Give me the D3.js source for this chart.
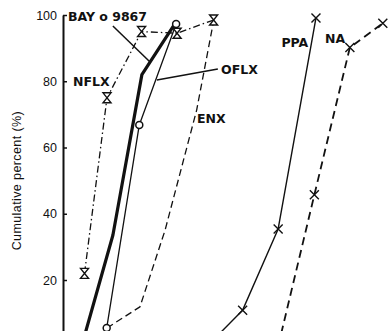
<!DOCTYPE html>
<html>
<head>
<meta charset="utf-8">
<script src="https://cdn.jsdelivr.net/npm/d3@7"></script>
<style>
body { margin: 0; background: #fff; }
svg { display: block; }
text { fill: #111; }
</style>
</head>
<body>
<div id="chart-area"></div>
<script>
var width = 389, height = 331;

// x is in arbitrary units: the x axis is cut off in the picture
var nflxX = [0.66, 1.35, 2.41, 3.50, 4.62];
var nflxY = [22, 75, 95, 94.5, 98.5];
var bayX = [0.57, 1.53, 2.42, 3.45];
var bayY = [0, 33.5, 82, 97.6];
var oflxX = [1.34, 2.34, 3.47];
var oflxY = [5.5, 66.8, 97.3];
var enxX = [1.35, 2.36, 3.13, 4.10, 4.62];
var enxY = [5.5, 11.9, 35, 71.3, 98.2];
var ppaX = [4.42, 5.51, 6.60, 7.76];
var ppaY = [0, 10.9, 35.4, 99.1];
var naX = [6.60, 7.71, 8.80, 9.81];
var naY = [0, 45.7, 90.2, 97.5];
var yTicks = [20, 40, 60, 80, 100];

var svg = d3.select("#chart-area")
    .append("svg")
    .attr("width", width)
    .attr("height", height);

var x = d3.scaleLinear().domain([0, 10]).range([63, 389]);
var y = d3.scaleLinear().domain([0, 100]).range([346.25, 15]);

var yAxis = d3.axisLeft(y)
    .tickValues(yTicks)
    .tickSizeInner(-4)
    .tickSizeOuter(0)
    .tickPadding(6);

var gy = svg.append("g")
    .attr("transform", "translate(" + x(0) + ",0)")
    .call(yAxis);
gy.select(".domain").attr("stroke", "#111").attr("stroke-width", 2);
gy.selectAll(".tick line").attr("stroke", "#111").attr("stroke-width", 1.5);
gy.selectAll(".tick text")
    .style("font-family", "'Liberation Sans', Arial, sans-serif")
    .style("font-size", "12.5px")
    .attr("fill", "#111");

svg.append("text")
    .attr("transform", "translate(21," + y(50) + ") rotate(-90)")
    .attr("text-anchor", "middle")
    .style("font-family", "'Liberation Sans', Arial, sans-serif")
    .style("font-size", "12.5px")
    .attr("letter-spacing", 0.4)
    .text("Cumulative percent (%)");

function zip(xs, ys) {
    return xs.map((v, i) => [v, ys[i]]);
}

var series = [
    { name: "NFLX", pts: zip(nflxX, nflxY), width: 1.3, dash: "7,3,1.5,3", marker: "hour" },
    { name: "BAY o 9867", pts: zip(bayX, bayY), width: 3.2, dash: null, marker: null },
    { name: "OFLX", pts: zip(oflxX, oflxY), width: 1.3, dash: null, marker: "circle" },
    { name: "ENX", pts: zip(enxX, enxY), width: 1.3, dash: "7,4", marker: null },
    { name: "PPA", pts: zip(ppaX, ppaY), width: 1.4, dash: null, marker: "cross" },
    { name: "NA", pts: zip(naX, naY), width: 1.8, dash: "8,5", marker: "cross" }
];

var line = d3.line()
    .x(d => x(d[0]))
    .y(d => y(d[1]));

series.forEach(s => {
    svg.append("path")
        .datum(s.pts)
        .attr("d", line)
        .attr("fill", "none")
        .attr("stroke", "#111")
        .attr("stroke-width", s.width)
        .attr("stroke-linejoin", "round")
        .attr("stroke-dasharray", s.dash);
});

var markerPath = {
    hour: "M-4,-5H4L-4,5H4Z",
    cross: "M-4.5,-4.5L4.5,4.5M-4.5,4.5L4.5,-4.5"
};

series.forEach(s => {
    if (!s.marker) return;
    var g = svg.selectAll(null)
        .data(s.marker === "circle" ? s.pts : s.pts.filter(d => d[1] > 0))
        .enter()
        .append("g")
        .attr("transform", d => "translate(" + x(d[0]) + "," + y(d[1]) + ")");
    if (s.marker === "circle") {
        g.append("circle").attr("r", 3.5)
            .attr("fill", "#fff").attr("stroke", "#111").attr("stroke-width", 1.5);
    } else {
        g.append("path").attr("d", markerPath[s.marker])
            .attr("fill", s.marker === "hour" ? "#fff" : "none")
            .attr("stroke", "#111").attr("stroke-width", 1.4);
    }
});

// labels and leader lines
var labels = [
    { text: "BAY o 9867", at: [0.15, 98.2] },
    { text: "NFLX", at: [0.31, 78.6] },
    { text: "OFLX", at: [4.85, 82.2] },
    { text: "ENX", at: [4.11, 67.4] },
    { text: "PPA", at: [6.70, 90.3] },
    { text: "NA", at: [8.04, 91.5] }
];
svg.selectAll(".lbl")
    .data(labels)
    .enter()
    .append("text")
    .attr("class", "lbl")
    .attr("x", d => x(d.at[0]))
    .attr("y", d => y(d.at[1]))
    .style("font-family", "'DejaVu Sans', sans-serif")
    .style("font-size", "12.5px")
    .style("font-weight", "bold")
    .text(d => d.text);

var leaders = [
    [[1.53, 96.7], [2.67, 85.8]],
    [[2.88, 80.4], [4.75, 83.7]]
];
svg.selectAll(".leader")
    .data(leaders)
    .enter()
    .append("path")
    .attr("class", "leader")
    .attr("d", line)
    .attr("fill", "none")
    .attr("stroke", "#111")
    .attr("stroke-width", 1.5);
</script>
</body>
</html>
